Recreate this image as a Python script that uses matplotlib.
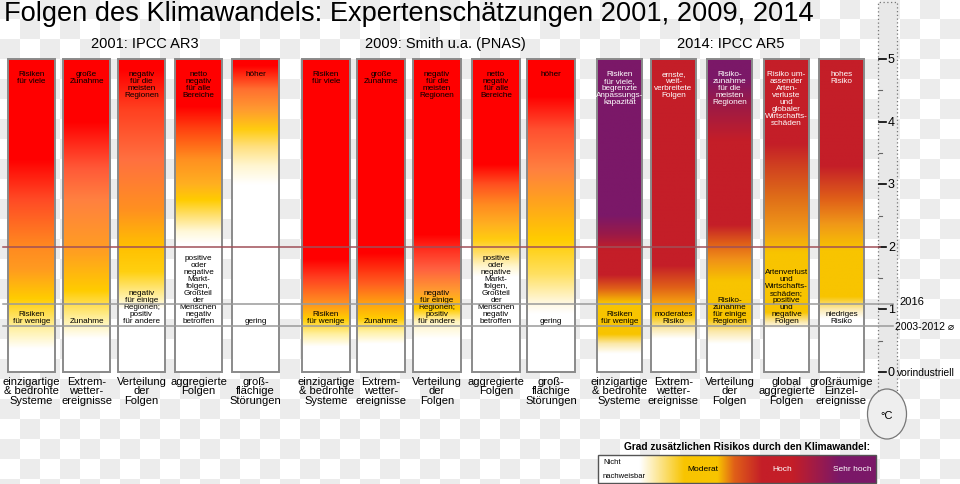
import numpy as np
import matplotlib
matplotlib.use("Agg")
import matplotlib.pyplot as plt
from matplotlib.colors import to_rgb
from matplotlib.patches import Rectangle, Ellipse

plt.rcParams['font.family'] = ['Liberation Sans', 'DejaVu Sans']

# ---- data -------------------------------------------------------------
title = "Folgen des Klimawandels: Expertenschätzungen 2001, 2009, 2014"
studies = ["2001: IPCC AR3", "2009: Smith u.a. (PNAS)", "2014: IPCC AR5"]

cats_old = ["einzigartige\n& bedrohte\nSysteme", "Extrem-\nwetter-\nereignisse",
            "Verteilung\nder\nFolgen", "aggregierte\nFolgen",
            "groß-\nflächige\nStörungen"]
cats_ar5 = ["einzigartige\n& bedrohte\nSysteme", "Extrem-\nwetter-\nereignisse",
            "Verteilung\nder\nFolgen", "global\naggregierte\nFolgen",
            "großräumige\nEinzel-\nereignisse"]

top_old = ["Risiken\nfür viele", "große\nZunahme", "negativ\nfür die\nmeisten\nRegionen",
           "netto\nnegativ\nfür alle\nBereiche", "höher"]
low_old = ["Risiken\nfür wenige", "Zunahme",
           "negativ\nfür einige\nRegionen;\npositiv\nfür andere",
           "positive\noder\nnegative\nMarkt-\nfolgen,\nGroßteil\nder\nMenschen\nnegativ\nbetroffen",
           "gering"]
top_ar5 = ["Risiken\nfür viele,\nbegrenzte\nAnpassungs-\nkapazität",
           "ernste,\nweit-\nverbreitete\nFolgen",
           "Risiko-\nzunahme\nfür die\nmeisten\nRegionen",
           "Risiko um-\nassender\nArten-\nverluste\nund\nglobaler\nWirtschafts-\nschäden",
           "hohes\nRisiko"]
low_ar5 = ["Risiken\nfür wenige", "moderates\nRisiko",
           "Risiko-\nzunahme\nfür einige\nRegionen",
           "Artenverlust\nund\nWirtschafts-\nschäden;\npositive\nund\nnegative\nFolgen",
           "niedriges\nRisiko"]

# colour stops along the temperature axis (°C, colour)
W = '#ffffff'
P, R5, O5, Y5 = '#7b1868', '#c41e28', '#e06018', '#f8c400'
stops_2001 = [
    [(0, W), (0.37, W), (0.7, '#fff0a0'), (1.17, '#ffcc00'), (1.65, '#ff9a20'),
     (2.0, '#ff8a20'), (2.76, '#ff4a25'), (3.4, '#ff0000'), (5, '#ff0000')],
    [(0, W), (0.53, W), (0.85, '#fff0a0'), (1.3, '#ffcc00'), (1.9, '#ffa020'),
     (2.76, '#ff8040'), (3.25, '#ff5a38'), (4.0, '#ff0000'), (5, '#ff0000')],
    [(0, W), (1.0, W), (1.17, '#fff2b0'), (1.6, '#ffd010'), (2.0, '#ffc000'),
     (2.6, '#ff9020'), (3.4, '#ff7040'), (4.2, '#ff4020'), (4.84, '#ff0000'), (5, '#ff0000')],
    [(0, W), (2.05, W), (2.25, '#fff8d8'), (2.5, '#ffe070'), (2.75, '#ffcc00'),
     (3.0, '#ffb020'), (3.4, '#ff9020'), (3.9, '#ff4010'), (4.25, '#ff0000'), (5, '#ff0000')],
    [(0, W), (3.0, W), (3.3, '#fff6d0'), (3.6, '#ffe080'), (3.88, '#ffcc10'),
     (4.2, '#ff9a30'), (4.52, '#ff7030'), (4.9, '#ff0000'), (5, '#ff0000')],
]
stops_2009 = [
    [(0, W), (0.4, W), (0.6, '#fff0a0'), (0.85, '#ffcc00'), (1.1, '#ff9020'),
     (1.5, '#ff4020'), (1.8, '#ff0000'), (5, '#ff0000')],
    [(0, W), (0.45, W), (0.65, '#fff0a0'), (0.85, '#ffcc00'), (1.1, '#ffa010'),
     (1.4, '#ff6020'), (1.9, '#ff0000'), (5, '#ff0000')],
    [(0, W), (0.53, W), (0.8, '#fff4c0'), (1.0, '#ffcc00'), (1.3, '#ff9a30'),
     (1.65, '#ff6040'), (1.95, '#ff3020'), (2.2, '#ff0000'), (5, '#ff0000')],
    [(0, W), (1.52, W), (1.68, '#fff6d0'), (1.88, '#ffe070'), (2.12, '#ffcc10'),
     (2.36, '#ffb020'), (2.68, '#ff8a20'), (3.0, '#ff5020'), (3.32, '#ff0000'), (5, '#ff0000')],
    [(0, W), (0.93, W), (1.1, '#fff8e0'), (1.57, '#ffe060'), (2.12, '#ffcc00'),
     (2.76, '#ffa020'), (3.24, '#ff8040'), (3.88, '#ff5030'), (4.41, '#ff0000'), (5, '#ff0000')],
]
stops_2014 = [
    [(0, W), (0.29, W), (0.45, '#fbe8a8'), (0.6, Y5), (1.1, Y5), (1.33, O5),
     (1.55, R5), (1.95, R5), (2.2, '#9a1a48'), (2.5, P), (5, P)],
    [(0, W), (0.53, W), (0.7, '#fbe8a8'), (0.9, Y5), (1.1, '#f5a010'),
     (1.35, O5), (1.7, R5), (5, R5)],
    [(0, W), (0.45, W), (0.65, '#fbe8a8'), (0.85, Y5), (1.45, Y5), (1.8, '#f09018'),
     (2.05, O5), (2.35, R5), (3.7, R5), (4.3, '#9a1a48'), (4.7, P), (5, P)],
    [(0, W), (0.69, W), (0.8, '#fbe8a8'), (0.95, Y5), (1.9, Y5), (2.28, '#f09818'),
     (2.76, '#e07018'), (3.3, '#d04020'), (3.65, R5), (5, R5)],
    [(0, W), (0.85, W), (1.0, '#fbeab0'), (1.2, Y5), (1.95, Y5), (2.36, '#f09818'),
     (2.76, O5), (3.3, R5), (5, R5)],
]
legend_stops = [(0, W), (0.15, W), (0.31, Y5), (0.43, Y5), (0.49, O5),
                (0.59, R5), (0.70, R5), (0.87, P), (1.0, P)]

t_2deg = 2.0
t_2016 = 1.08
t_2003_2012 = 0.73

# ---- layout (pixels) --------------------------------------------------
Y0, PPC = 373.0, 62.6          # y pixel of 0 °C, pixels per °C
def ty(ypx):
    return (Y0 - ypx) / PPC

groups = [
    dict(lefts=[8, 63, 118, 175, 232], w=47, stops=stops_2001, cats=cats_old,
         top=top_old, low=low_old, tcol='black', head_x=145),
    dict(lefts=[302, 357, 413, 472, 527], w=48, stops=stops_2009, cats=cats_old,
         top=top_old, low=low_old, tcol='black', head_x=445),
    dict(lefts=[597, 651, 707, 764, 819], w=45, stops=stops_2014, cats=cats_ar5,
         top=top_ar5, low=low_ar5, tcol='white', head_x=731),
]
BAR_TOP = 5.0


def gradient(stops, n=400, lo=0.0, hi=5.0):
    pos = np.array([s[0] for s in stops], float)
    cols = np.array([to_rgb(s[1]) for s in stops])
    t = np.linspace(lo, hi, n)
    return np.stack([np.interp(t, pos, cols[:, k]) for k in range(3)], axis=1)


fig = plt.figure(figsize=(9.6, 4.85), dpi=100)
ax = fig.add_axes([0, 0, 1, 1])
ax.axis('off')

# checkerboard background like the source picture
yy, xx = np.mgrid[0:485, 0:960]
chk = ((xx // 20 + yy // 20) % 2 == 0)
bg = np.ones((485, 960, 3))
bg[chk] = to_rgb('#ececec')
ax.imshow(bg, extent=[0, 960, ty(485), ty(0)], aspect='auto',
          interpolation='nearest', zorder=0)

ax.text(4, ty(14), title, fontsize=19.6, ha='left', va='center')

for g, head in zip(groups, studies):
    ax.text(g['head_x'], ty(44), head, fontsize=10.5, ha='center', va='center')
    for i, x0 in enumerate(g['lefts']):
        w = g['w']
        xc = x0 + w / 2
        col = gradient(g['stops'][i], hi=BAR_TOP)
        ax.imshow(col[:, None, :], extent=[x0, x0 + w, 0, BAR_TOP], origin='lower',
                  aspect='auto', interpolation='bilinear', zorder=2)
        ax.add_patch(Rectangle((x0, 0), w, BAR_TOP, fill=False, ec='#8a8a8a',
                               lw=1.4, zorder=4))
        ax.text(xc, ty(71), g['top'][i], fontsize=5.9, ha='center', va='top',
                color=g['tcol'], linespacing=1.0, zorder=5)
        ax.text(xc, ty(325), g['low'][i], fontsize=5.9, ha='center', va='bottom',
                color='black', linespacing=1.0, zorder=5)
        ax.text(xc, ty(377), g['cats'][i], fontsize=8, ha='center', va='top',
                linespacing=0.92, zorder=5)

# reference lines
ax.plot([3, 880], [t_2deg, t_2deg], color='#a05058', lw=1.1, zorder=6)
ax.plot([3, 893], [t_2016, t_2016], color='#9a9a9a', lw=1.1, zorder=6)
ax.plot([3, 893], [t_2003_2012, t_2003_2012], color='#9a9a9a', lw=1.1, zorder=6)

# thermometer
tx0, tx1 = 878, 897
ax.add_patch(Rectangle((tx0, ty(395)), tx1 - tx0, ty(3) - ty(395), fc='#e8e8e8',
                       ec='#777777', lw=0.9, ls=(0, (1, 2)), zorder=3))
ax.add_patch(Ellipse((887, ty(415)), 39, 50 / PPC, fc='#eeeeee', ec='#777777',
                     lw=0.9, zorder=4))
ax.text(887, ty(416), "°C", fontsize=8, ha='center', va='center', zorder=5)
for t in range(6):
    ax.plot([879, 886], [t, t], color='black', lw=1.2, zorder=5)
    ax.text(888, t, str(t), fontsize=9, ha='left', va='center', zorder=5)
for t in np.arange(0.5, 5, 1.0):
    ax.plot([879, 882], [t, t], color='#666666', lw=0.8, zorder=5)
ax.text(899, t_2016 + 0.05, "2016", fontsize=8, ha='left', va='center')
ax.text(895, t_2003_2012, "2003-2012 ⌀", fontsize=7.5, ha='left', va='center')
ax.text(897, 0, "vorindustriell", fontsize=7.4, ha='left', va='center')

# legend colour bar
lx0, lx1, ly0, ly1 = 598, 876, 484, 456
ax.text((lx0 + lx1) / 2 + 10, ty(447), "Grad zusätzlichen Risikos durch den Klimawandel:",
        fontsize=7.3, fontweight='bold', ha='center', va='center')
lg = gradient(legend_stops, n=400, lo=0, hi=1)
ax.imshow(lg[None, :, :], extent=[lx0, lx1, ty(ly0), ty(ly1)], aspect='auto',
          interpolation='bilinear', zorder=2)
ax.add_patch(Rectangle((lx0, ty(ly0)), lx1 - lx0, ty(ly1) - ty(ly0), fill=False,
                       ec='#555555', lw=1.0, zorder=4))
ax.text(603, ty(463), "Nicht", fontsize=5.5, ha='left', va='center', zorder=5)
ax.text(603, ty(477), "nachweisbar", fontsize=5.5, ha='left', va='center', zorder=5)
ax.text(703, ty(470), "Moderat", fontsize=6, ha='center', va='center', zorder=5)
ax.text(782, ty(470), "Hoch", fontsize=6, ha='center', va='center', color='white', zorder=5)
ax.text(852, ty(470), "Sehr hoch", fontsize=6, ha='center', va='center', color='white', zorder=5)

ax.set_xlim(0, 960)
ax.set_ylim(ty(485), ty(0))
fig.savefig("out.png", dpi=100)
